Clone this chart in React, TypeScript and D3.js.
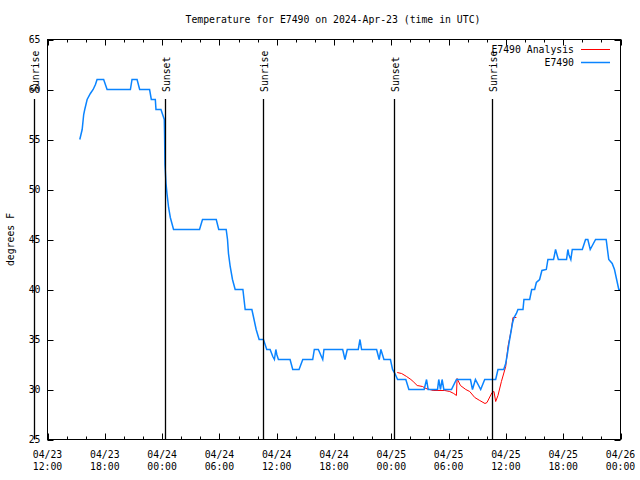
import React from "react";
import * as d3 from "d3";

const START = "2024-04-23T12:00:00Z";
const END = "2024-04-26T00:00:00Z";
const TITLE = "Temperature for E7490 on 2024-Apr-23 (time in UTC)";
const Y_LABEL = "degrees F";
const SERIES_NAMES = ["E7490 Analysis", "E7490"];

// hours since START, observed temperature (F)
const obsHours = [
  3.38, 3.63, 3.79, 3.9, 4.15, 4.49, 4.78, 5.02, 5.19, 5.88, 6.24, 8.68, 8.85, 9.38, 9.65, 10.69, 10.87, 11.29,
  11.36, 11.88, 12.09, 12.23, 12.26, 12.3, 12.41, 12.51, 12.68, 12.86, 13.03, 13.2, 15.92, 16.23, 17.67, 17.93,
  18.71, 18.85, 18.95, 19.13, 19.37, 19.65, 20.46, 20.7, 21.4, 21.56, 21.85, 22.16, 22.61, 22.96, 23.31, 23.59,
  23.76, 23.91, 24.01, 24.18, 25.4, 25.68, 26.34, 26.73, 27.77, 27.94, 28.36, 28.82, 28.95, 30.91, 31.15, 31.39,
  32.54, 32.72, 32.89, 34.46, 34.73, 34.91, 35.23, 35.91, 36.13, 36.38, 36.66, 37.52, 37.84, 39.44, 39.69, 39.86,
  40.84, 40.97, 41.15, 41.32, 41.5, 42.3, 42.82, 44.29, 44.5, 44.81, 45.36, 45.78, 46.93, 47.17, 47.77, 47.98,
  48.16, 48.32, 48.5, 48.68, 48.85, 49.1, 49.26, 49.79, 49.89, 50.49, 50.7, 51.01, 51.19, 51.53, 51.77, 52.23,
  52.4, 52.99, 53.2, 53.49, 54.35, 54.49, 54.59, 54.8, 54.95, 56.0, 56.34, 56.58, 56.83, 57.39, 58.5, 58.77,
  59.13, 59.37, 59.55, 59.82, 60.0,
];
const obsTemps = [
  55, 56, 57.5, 58, 59, 59.6, 60, 60.5, 61, 61, 60, 60, 61, 61, 60, 60, 59, 59,
  58, 58, 57.4, 57, 55.5, 52.5, 50.6, 49.6, 48.2, 47.2, 46.6, 46, 46, 47, 47, 46,
  46, 45, 43.6, 42.3, 41, 40, 40, 38, 38, 37.3, 36, 35, 35, 34, 34, 33.3,
  33, 34, 33.5, 33, 33, 32, 32, 33, 33, 34, 34, 33, 34, 34, 33, 34,
  34, 35, 34, 34, 33, 34, 33, 33, 32, 31.6, 31, 31, 30, 30, 31, 30,
  30, 31, 30, 31, 30, 30, 31, 31, 30, 31, 30, 31, 31, 32, 32, 32.6,
  33.6, 34.6, 35.6, 36.6, 37.2, 37.6, 38, 38, 39, 39, 40, 40, 40.7, 41, 41.9, 42,
  43, 43, 44, 43, 43, 44, 43.5, 43, 44, 44, 45, 45, 44, 45, 45, 43,
  42.6, 42, 41.2, 40, 40,
];

// hours since START, analysis temperature (F)
const anaHours = [
  36.62, 37.08, 37.6, 38.05, 38.29, 38.71, 39.27, 39.62, 40.03, 40.38, 41.6, 42.12, 42.54, 42.82, 42.89, 43.24,
  43.8, 44.21, 44.74, 45.26, 45.81, 46.02, 46.55, 46.75, 46.93, 47.17, 47.53, 47.98, 48.22, 48.57, 48.74, 49.1,
];
const anaTemps = [
  31.7, 31.6, 31.3, 31, 30.8, 30.4, 30.3, 30.1, 30, 29.9, 29.9, 29.8, 29.6, 29.4, 31.1, 30.4,
  30, 29.8, 29.2, 28.9, 28.6, 28.7, 29.7, 29.8, 28.8, 29.4, 30.8, 32.3, 34.3, 36, 37.2, 37.2,
];

const sunLabels = ["Sunrise", "Sunset", "Sunrise", "Sunset", "Sunrise"];
const sunTimes = [
  "2024-04-23T10:34:00Z",
  "2024-04-24T00:16:00Z",
  "2024-04-24T10:36:00Z",
  "2024-04-25T00:17:00Z",
  "2024-04-25T10:35:00Z",
];

const yTicks = [25, 30, 35, 40, 45, 50, 55, 60, 65];

const FONT = "'DejaVu Sans Mono', monospace";
const FS = 9.8;

export default function App() {
  const W = 640, H = 480;
  const L = 47.5, R = 620.5, T = 39.5, B = 439.5;
  const t0 = new Date(START);
  const toDate = (h: number) => new Date(t0.getTime() + h * 3600000);
  const x = d3.scaleUtc().domain([new Date(START), new Date(END)]).range([L, R]);
  const y = d3.scaleLinear().domain([25, 65]).range([B, T]);

  const obs = obsHours.map((h, i) => ({ d: toDate(h), v: obsTemps[i] }));
  const ana = anaHours.map((h, i) => ({ d: toDate(h), v: anaTemps[i] }));
  const line = d3.line<{ d: Date; v: number }>().x((p) => x(p.d)).y((p) => y(p.v));

  const majorX = x.ticks(d3.utcHour.every(6)!);
  const minorX = x.ticks(d3.utcHour.every(2)!).filter((d) => d.getUTCHours() % 6 !== 0);
  const fmtDay = d3.utcFormat("%m/%d");
  const fmtHour = d3.utcFormat("%H:%M");

  const blue = "#0a84ff";
  const red = "#ff0000";

  return (
    <svg width={W} height={H} style={{ position: "absolute", left: 0, top: 0, background: "#fff" }}
      fontFamily={FONT} fontSize={FS}>
      <rect x={0} y={0} width={W} height={H} fill="#fff" />
      <text x={333} y={23} textAnchor="middle">{TITLE}</text>

      {/* data */}
      <path d={line(ana) || ""} fill="none" stroke={red} strokeWidth={1} />
      <path d={line(obs) || ""} fill="none" stroke={blue} strokeWidth={1.5} />

      {/* sun events */}
      {sunTimes.map((s, i) => {
        const sx = Math.round(x(new Date(s))) + 0.5;
        return (
          <g key={i}>
            <line x1={sx} x2={sx} y1={99} y2={B} stroke="#000" strokeWidth={1.3} />
            <text transform={`translate(${sx + 4.3},92) rotate(-90)`} textAnchor="start">{sunLabels[i]}</text>
          </g>
        );
      })}

      {/* frame */}
      <rect x={L} y={T} width={R - L} height={B - T} fill="none" stroke="#000" strokeWidth={1} />

      {/* y ticks */}
      {yTicks.map((v) => (
        <g key={v}>
          <line x1={L} x2={L + 6} y1={Math.round(y(v)) + 0.5} y2={Math.round(y(v)) + 0.5} stroke="#000" />
          <line x1={R} x2={R - 6} y1={Math.round(y(v)) + 0.5} y2={Math.round(y(v)) + 0.5} stroke="#000" />
          <text x={40.5} y={y(v)} dy="0.35em" textAnchor="end">{v}</text>
        </g>
      ))}

      {/* x ticks */}
      {majorX.map((d, i) => {
        const tx = Math.round(x(d)) + 0.5;
        return (
          <g key={"M" + i}>
            <line x1={tx} x2={tx} y1={B} y2={B - 6} stroke="#000" />
            <line x1={tx} x2={tx} y1={T} y2={T + 6} stroke="#000" />
            <text x={x(d)} y={457.5} textAnchor="middle">{fmtDay(d)}</text>
            <text x={x(d)} y={469.5} textAnchor="middle">{fmtHour(d)}</text>
          </g>
        );
      })}
      {minorX.map((d, i) => {
        const tx = Math.round(x(d)) + 0.5;
        return (
          <g key={"m" + i}>
            <line x1={tx} x2={tx} y1={B} y2={B - 3} stroke="#000" />
            <line x1={tx} x2={tx} y1={T} y2={T + 3} stroke="#000" />
          </g>
        );
      })}

      {/* y label */}
      <text transform={`translate(14,${(T + B) / 2}) rotate(-90)`} textAnchor="middle">{Y_LABEL}</text>

      {/* legend */}
      <text x={574} y={50} dy="0.35em" textAnchor="end">{SERIES_NAMES[0]}</text>
      <line x1={581} x2={610} y1={49.5} y2={49.5} stroke={red} strokeWidth={1} />
      <text x={574} y={62.5} dy="0.35em" textAnchor="end">{SERIES_NAMES[1]}</text>
      <line x1={581} x2={610} y1={62.5} y2={62.5} stroke={blue} strokeWidth={1.5} />
    </svg>
  );
}
